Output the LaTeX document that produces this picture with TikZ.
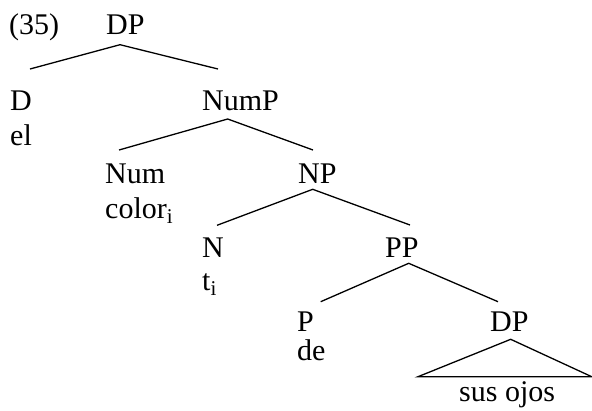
\documentclass[tikz,border=0pt]{standalone}
\usepackage{fontspec}
\setmainfont{Liberation Serif}
\usetikzlibrary{positioning,calc}

\begin{document}
\begin{tikzpicture}[x=1pt,y=-1pt,
	lbl/.style={anchor=base west,inner sep=0pt,font=\fontsize{30}{36}\selectfont},
	branch/.style={line width=1.3pt}]
	\useasboundingbox (0,0) rectangle (592,410);
	% labels
	\node[lbl] (ex) at (9,34.5) {(35)};
	\node[lbl] (dp) at (106,34.5) {DP};
	\node[lbl] (d) at (10,110.5) {D};
	\node[lbl] (el) at (10,145) {el};
	\node[lbl] (nump) at (202,110.5) {NumP};
	\node[lbl] (num) at (105,183) {Num};
	\node[lbl] (color) at (105,218) {color\textsubscript{i}};
	\node[lbl] (np) at (298,183.3) {NP};
	\node[lbl] (n) at (202,257) {N};
	\node[lbl] (t) at (202,290) {t\textsubscript{i}};
	\node[lbl] (pp) at (385,257) {PP};
	\node[lbl] (p) at (297,331) {P};
	\node[lbl] (de) at (297,360) {de};
	\node[lbl] (dpb) at (490,331) {DP};
	\node[lbl] (ojos) at (459,401) {sus ojos};
	% branches
	\draw[branch] ([shift={(20,-41.5)}]d.base west) -- ([shift={(14,10.2)}]dp.base west) -- ([shift={(16,-41.5)}]nump.base west);
	\draw[branch] ([shift={(14,-33)}]num.base west) -- ([shift={(25.7,8.5)}]nump.base west) -- ([shift={(15,-33.3)}]np.base west);
	\draw[branch] ([shift={(15,-31.7)}]n.base west) -- ([shift={(14.7,6)}]np.base west) -- ([shift={(25,-32)}]pp.base west);
	\draw[branch] ([shift={(23.7,-29.3)}]p.base west) -- ([shift={(23.7,6.3)}]pp.base west) -- ([shift={(8,-29.3)}]dpb.base west);
	\draw[branch] ([shift={(-41,-24.3)}]ojos.base west) -- ([shift={(20.7,8.3)}]dpb.base west) -- ([shift={(132.7,-24.3)}]ojos.base west) -- cycle;
\end{tikzpicture}
\end{document}
